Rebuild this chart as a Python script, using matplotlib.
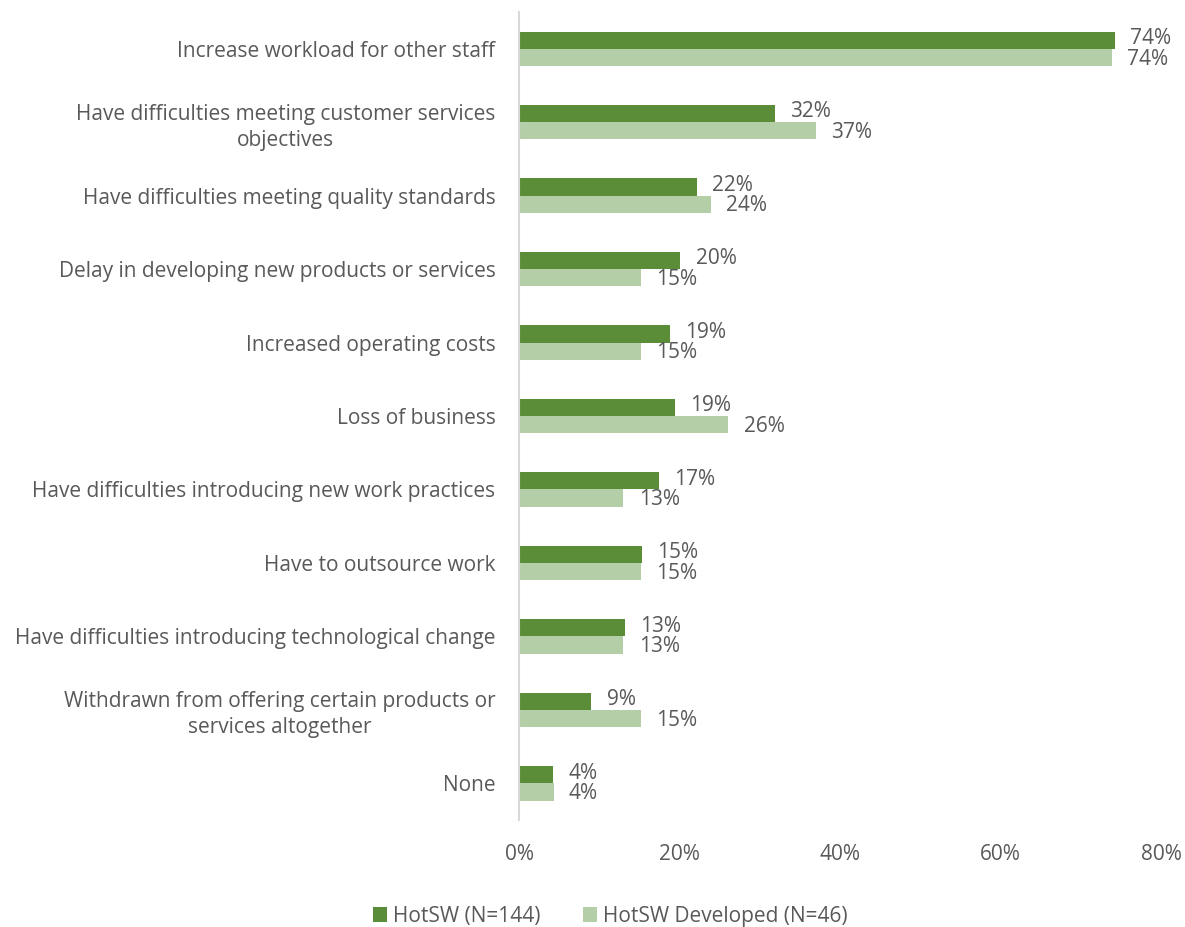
import matplotlib
matplotlib.use('Agg')
import matplotlib.pyplot as plt
import numpy as np

categories = [
    'Increase workload for other staff',
    'Have difficulties meeting customer services\nobjectives',
    'Have difficulties meeting quality standards',
    'Delay in developing new products or services',
    'Increased operating costs',
    'Loss of business',
    'Have difficulties introducing new work practices',
    'Have to outsource work',
    'Have difficulties introducing technological change',
    'Withdrawn from offering certain products or\nservices altogether',
    'None',
]
hotsw = [74.3, 31.9, 22.2, 20.1, 18.8, 19.4, 17.4, 15.3, 13.2, 9.0, 4.2]
developed = [73.9, 37.0, 23.9, 15.2, 15.2, 26.1, 13.0, 15.2, 13.0, 15.2, 4.3]
series_names = ['HotSW (N=144)', 'HotSW Developed (N=46)']
xticks = [0, 20, 40, 60, 80]

plt.rcParams['font.family'] = ['Open Sans', 'DejaVu Sans']
text_color = '#595959'
dark = '#5B8C38'
light = '#B4CFA8'
fs = 15

fig = plt.figure(figsize=(11.85, 9.27), dpi=100)
ax = fig.add_axes([0.438, 0.1154, 0.5417, 0.8716])

y = np.arange(len(categories))
h = 0.235
b1 = ax.barh(y - h / 2, hotsw, height=h, color=dark, label=series_names[0])
b2 = ax.barh(y + h / 2, developed, height=h, color=light, label=series_names[1])

# value labels just past the bar ends, nudged apart a little
for bars, vals, dy in ((b1, hotsw, 1.2), (b2, developed, -1.2)):
    for bar, v in zip(bars, vals):
        ax.annotate('%d%%' % round(v), (v, bar.get_y() + bar.get_height() / 2),
                    xytext=(11, dy), textcoords='offset points',
                    va='center', ha='left', fontsize=fs, color=text_color)

ax.set_ylim(len(categories) - 0.5, -0.5)
ax.set_xlim(0, 80)
ax.set_yticks(y)
ax.set_yticklabels(categories, fontsize=fs, color=text_color, ha='right',
                   multialignment='center', linespacing=1.3)
ax.set_xticks(xticks)
ax.set_xticklabels(['%d%%' % t for t in xticks], fontsize=fs, color=text_color)
ax.tick_params(axis='both', length=0)
ax.tick_params(axis='x', pad=17)
ax.tick_params(axis='y', pad=17)
for s in ('top', 'right', 'bottom'):
    ax.spines[s].set_visible(False)
ax.spines['left'].set_color('#D9D9D9')
ax.spines['left'].set_linewidth(1.5)

fig.legend(handles=[b1, b2], loc='lower center', bbox_to_anchor=(0.515, -0.02), ncol=2,
           frameon=False, fontsize=fs, handlelength=0.7, handleheight=0.7,
           handletextpad=0.3, columnspacing=2.0, labelcolor=text_color)

fig.savefig('out.png', dpi=100)
